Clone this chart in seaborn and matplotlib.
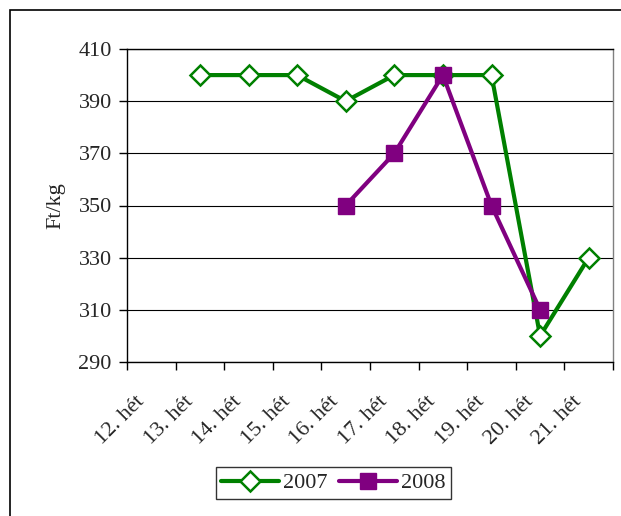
import numpy as np
import pandas as pd
import matplotlib
matplotlib.use('Agg')
import matplotlib.pyplot as plt
import matplotlib.transforms as mtransforms
from matplotlib.patches import Rectangle
import seaborn as sns

# adatok (Ft/kg)
weeks = ['12. hét', '13. hét', '14. hét', '15. hét', '16. hét',
         '17. hét', '18. hét', '19. hét', '20. hét', '21. hét']
price_2007 = [np.nan, 400, 400, 400, 390, 400, 400, 400, 300, 330]
price_2008 = [np.nan, np.nan, np.nan, np.nan, 350, 370, 400, 350, 310, np.nan]
y_ticks = [290, 310, 330, 350, 370, 390, 410]

sns.set_theme(style='white')
plt.rcParams['font.family'] = ['Liberation Serif', 'DejaVu Serif']
plt.rcParams['font.size'] = 16

df = pd.DataFrame({'pos': np.arange(len(weeks)), 'week': weeks,
                   '2007': price_2007, '2008': price_2008})

fig = plt.figure(figsize=(6.21, 5.16), dpi=100)
ax = fig.add_axes([127/621, 1 - 362/516, (613 - 127)/621, (362 - 49)/516])

sns.lineplot(data=df, x='pos', y='2007', ax=ax, color='#008000', lw=3,
             marker='D', ms=10, mfc='white', mec='#008000', mew=1.8, label='2007')
sns.lineplot(data=df, x='pos', y='2008', ax=ax, color='#800080', lw=3,
             marker='s', ms=12, mfc='#800080', mec='#800080', mew=1, label='2008')

ax.set_xlim(-0.5, len(weeks) - 0.5)
ax.set_ylim(290, 410)
ax.set_yticks(y_ticks)
ax.yaxis.grid(True, color='black', lw=0.8)
ax.set_axisbelow(True)

ax.set_xticks(np.arange(len(weeks)))
ax.set_xticklabels(weeks, rotation=45, ha='right', va='top')
ax.set_xticks(np.arange(len(weeks) + 1) - 0.5, minor=True)
ax.tick_params(axis='x', which='major', bottom=True, length=0, pad=22, labelsize=16)
ax.tick_params(axis='x', which='minor', bottom=True, length=6, width=1,
               color='black', direction='out')
ax.tick_params(axis='y', left=True, length=6, width=1, color='black',
               direction='out', pad=5, labelsize=16)
shift = mtransforms.ScaledTranslation(-3/100, 0, fig.dpi_scale_trans)
for lab in ax.get_xticklabels():
    lab.set_transform(lab.get_transform() + shift)

ax.set_xlabel('')
ax.set_ylabel('Ft/kg', fontsize=16, labelpad=9)

for side in ['left', 'bottom', 'top']:
    ax.spines[side].set_color('black')
    ax.spines[side].set_linewidth(1)
ax.spines['right'].set_color('#808080')
ax.spines['right'].set_linewidth(1)

leg = ax.legend(loc='center', bbox_to_anchor=(333.5/621, 1 - 483/516),
                bbox_transform=fig.transFigure, ncol=2, frameon=True,
                fancybox=False, edgecolor='black', handlelength=2.6,
                handletextpad=0.2, columnspacing=0.5, borderpad=0.25,
                fontsize=16)
leg.get_frame().set_linewidth(1)

fig.patches.append(Rectangle((10/621, -0.05), 1.1, 1 - 10/516 + 0.05,
                             transform=fig.transFigure, fill=False,
                             edgecolor='black', lw=1.2))

fig.savefig('out.png', dpi=100)
